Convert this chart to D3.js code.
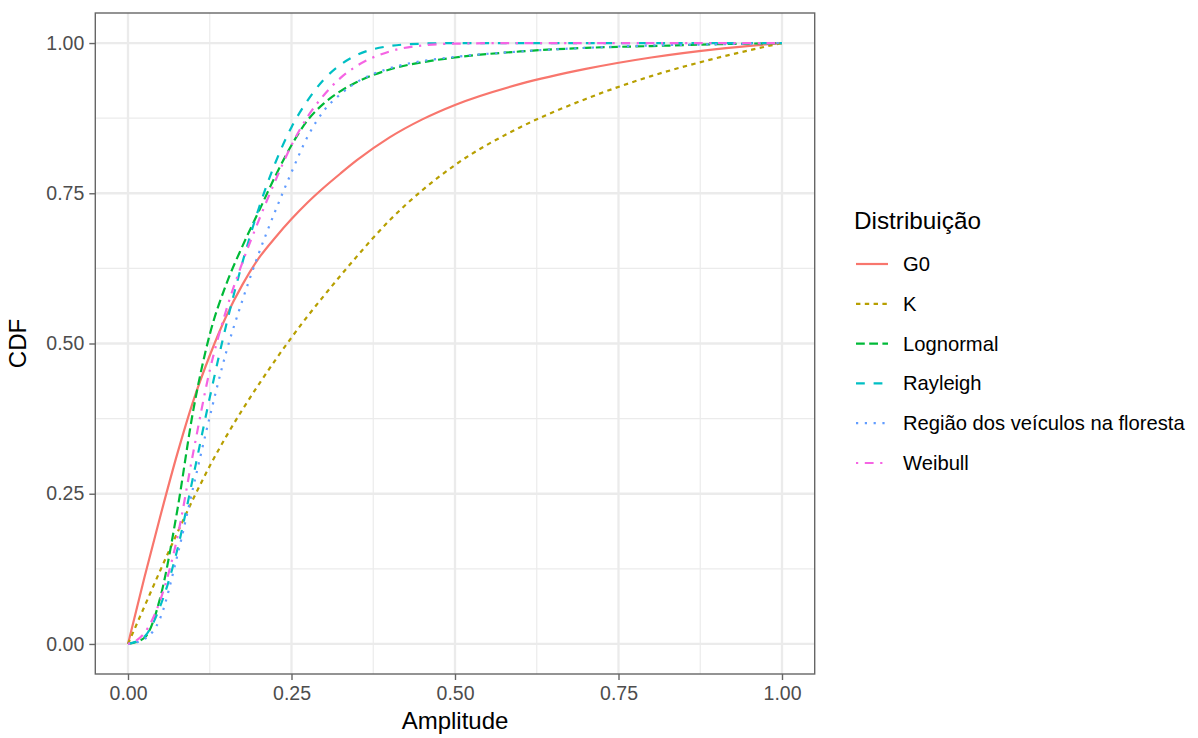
<!DOCTYPE html>
<html>
<head>
<meta charset="utf-8">
<script src="https://cdn.jsdelivr.net/npm/d3@7/dist/d3.min.js"></script>
<style>
  html, body { margin: 0; padding: 0; background: #ffffff; }
  svg { display: block; font-family: "Liberation Sans", Arial, Helvetica, sans-serif; }
</style>
</head>
<body>
<svg id="chart" width="1198" height="738"></svg>
<script>
// ---- data ----
const amplitude    = [0, 0.025, 0.05, 0.075, 0.1, 0.125, 0.15, 0.175, 0.2, 0.225, 0.25, 0.275, 0.3, 0.325, 0.35, 0.4, 0.45, 0.5, 0.6, 0.7, 0.8, 0.9, 1.0];
const seriesNames  = ["G0", "K", "Lognormal", "Rayleigh", "Região dos veículos na floresta", "Weibull"];
const cdfG0        = [0, 0.11, 0.215, 0.315, 0.405, 0.48, 0.545, 0.598, 0.642, 0.676, 0.707, 0.735, 0.76, 0.783, 0.805, 0.843, 0.873, 0.897, 0.932, 0.957, 0.976, 0.99, 1.0];
const cdfK         = [0, 0.062, 0.124, 0.184, 0.242, 0.296, 0.345, 0.39, 0.432, 0.472, 0.51, 0.546, 0.58, 0.613, 0.645, 0.705, 0.755, 0.797, 0.86, 0.907, 0.945, 0.975, 1.0];
const cdfLognormal = [0, 0.01, 0.08, 0.22, 0.39, 0.515, 0.598, 0.662, 0.72, 0.778, 0.83, 0.872, 0.9, 0.92, 0.935, 0.956, 0.968, 0.976, 0.986, 0.992, 0.995, 0.998, 1.0];
const cdfRayleigh  = [0, 0.012, 0.065, 0.155, 0.28, 0.41, 0.53, 0.635, 0.725, 0.80, 0.86, 0.905, 0.94, 0.964, 0.98, 0.995, 0.999, 1.0, 1.0, 1.0, 1.0, 1.0, 1.0];
const cdfRegiao    = [0, 0.008, 0.045, 0.145, 0.262, 0.378, 0.485, 0.572, 0.65, 0.72, 0.785, 0.845, 0.888, 0.915, 0.935, 0.958, 0.97, 0.977, 0.986, 0.992, 0.996, 0.998, 1.0];
const cdfWeibull   = [0, 0.018, 0.075, 0.175, 0.32, 0.455, 0.555, 0.635, 0.705, 0.77, 0.83, 0.878, 0.914, 0.942, 0.962, 0.986, 0.996, 0.999, 1.0, 1.0, 1.0, 1.0, 1.0];
const xTicks = [0, 0.25, 0.5, 0.75, 1.0];
const yTicks = [0, 0.25, 0.5, 0.75, 1.0];
const xTickLabels = ["0.00", "0.25", "0.50", "0.75", "1.00"];
const yTickLabels = ["0.00", "0.25", "0.50", "0.75", "1.00"];
const minorBreaks = [0.125, 0.375, 0.625, 0.875];

const seriesValues = [cdfG0, cdfK, cdfLognormal, cdfRayleigh, cdfRegiao, cdfWeibull];
const colors = ["#F8766D", "#B79F00", "#00BA38", "#00BFC4", "#619CFF", "#F564E3"];
const u = 2.2;
const dashes = [null, [2,2], [4,2], [4,4], [1,3], [1,3,4,3]].map(d => d ? d.map(v => v * u).join(",") : null);

// ---- layout ----
const svg = d3.select("#chart");
const panel = { left: 95.3, right: 814.7, top: 13, bottom: 674 };
const x = d3.scaleLinear().domain([-0.05, 1.05]).range([panel.left, panel.right]);
const y = d3.scaleLinear().domain([-0.05, 1.05]).range([panel.bottom, panel.top]);

svg.append("rect").attr("width", 1198).attr("height", 738).attr("fill", "#fff");

// grid
const g = svg.append("g");
g.selectAll("line.minx").data(minorBreaks).join("line")
  .attr("x1", d => x(d)).attr("x2", d => x(d)).attr("y1", panel.top).attr("y2", panel.bottom)
  .attr("stroke", "#EBEBEB").attr("stroke-width", 1.2);
g.selectAll("line.miny").data(minorBreaks).join("line")
  .attr("y1", d => y(d)).attr("y2", d => y(d)).attr("x1", panel.left).attr("x2", panel.right)
  .attr("stroke", "#EBEBEB").attr("stroke-width", 1.2);
g.selectAll("line.majx").data(xTicks).join("line")
  .attr("x1", d => x(d)).attr("x2", d => x(d)).attr("y1", panel.top).attr("y2", panel.bottom)
  .attr("stroke", "#EBEBEB").attr("stroke-width", 2.3);
g.selectAll("line.majy").data(yTicks).join("line")
  .attr("y1", d => y(d)).attr("y2", d => y(d)).attr("x1", panel.left).attr("x2", panel.right)
  .attr("stroke", "#EBEBEB").attr("stroke-width", 2.3);

// lines
const line = d3.line().x(d => x(d[0])).y(d => y(d[1])).curve(d3.curveMonotoneX);
seriesValues.forEach((vals, i) => {
  const pts = amplitude.map((a, j) => [a, vals[j]]);
  const p = svg.append("path").datum(pts).attr("d", line)
    .attr("fill", "none").attr("stroke", colors[i]).attr("stroke-width", 2.2)
    .attr("stroke-linecap", "butt").attr("stroke-linejoin", "round");
  if (dashes[i]) p.attr("stroke-dasharray", dashes[i]);
});

// border
svg.append("rect").attr("x", panel.left).attr("y", panel.top)
  .attr("width", panel.right - panel.left).attr("height", panel.bottom - panel.top)
  .attr("fill", "none").attr("stroke", "#666").attr("stroke-width", 1.4);

// axes
const xAxis = d3.axisBottom(x).tickValues(xTicks).tickFormat((d, i) => xTickLabels[i]).tickSize(6).tickPadding(6);
const yAxis = d3.axisLeft(y).tickValues(yTicks).tickFormat((d, i) => yTickLabels[i]).tickSize(6).tickPadding(5);
const gx = svg.append("g").attr("transform", `translate(0,${panel.bottom})`).call(xAxis);
const gy = svg.append("g").attr("transform", `translate(${panel.left},0)`).call(yAxis);
[gx, gy].forEach(ax => {
  ax.select(".domain").remove();
  ax.selectAll(".tick line").attr("stroke", "#666").attr("stroke-width", 1.4);
  ax.selectAll(".tick text").attr("fill", "#4D4D4D").style("font-size", "19.5px")
    .style("font-family", "'Liberation Sans', Arial, sans-serif");
});

// axis titles
svg.append("text").attr("x", (panel.left + panel.right) / 2).attr("y", 729)
  .attr("text-anchor", "middle").style("font-size", "24px").attr("fill", "#000").text("Amplitude");
svg.append("text").attr("transform", `translate(26,${(panel.top + panel.bottom) / 2}) rotate(-90)`)
  .attr("text-anchor", "middle").style("font-size", "24px").attr("fill", "#000").text("CDF");

// legend
const lg = svg.append("g");
lg.append("text").attr("x", 854).attr("y", 228.5).style("font-size", "24.3px").attr("fill", "#000").text("Distribuição");
const rowY = d3.scalePoint().domain(seriesNames).range([264, 463]);
seriesNames.forEach((name, i) => {
  const cy = rowY(name);
  const l = lg.append("line").attr("x1", 856).attr("x2", 888).attr("y1", cy).attr("y2", cy)
    .attr("stroke", colors[i]).attr("stroke-width", 2.2).attr("stroke-linecap", "butt");
  if (dashes[i]) l.attr("stroke-dasharray", dashes[i]);
  lg.append("text").attr("x", 903).attr("y", cy + 7).style("font-size", "20.2px").attr("fill", "#000").text(name);
});
</script>
</body>
</html>
